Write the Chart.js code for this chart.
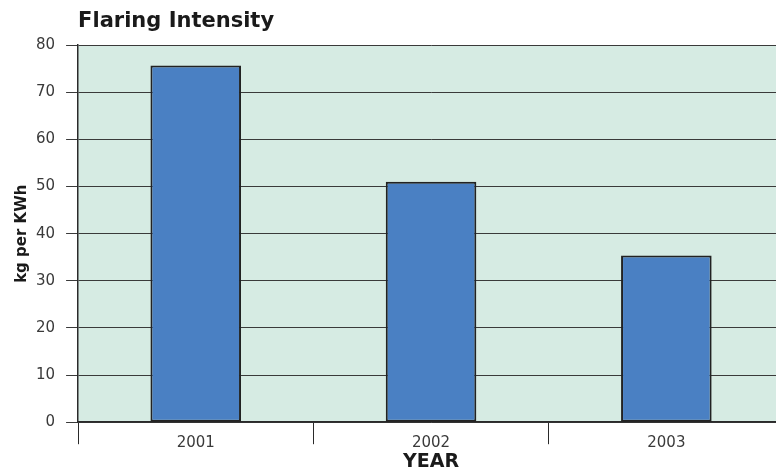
<!DOCTYPE html>
<html>
<head>
<meta charset="utf-8">
<style>
  html, body { margin: 0; padding: 0; background: #ffffff; overflow: hidden; }
  #wrap { position: relative; width: 784px; height: 474px; }
</style>
<script src="https://cdn.jsdelivr.net/npm/chart.js@4/dist/chart.umd.min.js"></script>
</head>
<body>
<div id="wrap"><canvas id="chart"></canvas></div>
<script>
// Flaring intensity by year
const years = ['2001', '2002', '2003'];
const intensity = [75.7, 51.0, 35.4];
const yTicks = [0, 10, 20, 30, 40, 50, 60, 70, 80];

const FONT = '"DejaVu Sans", "Liberation Sans", Arial, sans-serif';

// Fill the plotting area before the grid is drawn
const plotBackground = {
  id: 'plotBackground',
  beforeDraw(chart) {
    const { ctx, chartArea: a } = chart;
    ctx.save();
    ctx.fillStyle = '#d6ebe3';
    ctx.fillRect(a.left, a.top, a.right - a.left, a.bottom - a.top);
    ctx.restore();
  }
};

new Chart(document.getElementById('chart'), {
  type: 'bar',
  data: {
    labels: years,
    datasets: [{
      label: 'Flaring Intensity',
      data: intensity,
      backgroundColor: '#4a80c3',
      borderColor: '#222222',
      borderWidth: 2,
      borderSkipped: false,
      categoryPercentage: 1.0,
      barPercentage: 0.385
    }]
  },
  options: {
    responsive: true,
    maintainAspectRatio: false,
    animation: false,
    layout: { padding: { left: 13, right: 0, top: 0, bottom: 0 } },
    plugins: {
      legend: { display: false },
      tooltip: { enabled: false },
      title: {
        display: true,
        text: 'Flaring Intensity',
        align: 'start',
        fullSize: false,
        color: '#1a1a1a',
        font: { family: FONT, size: 21, weight: 'bold' },
        padding: { top: 9, bottom: 11 }
      }
    },
    scales: {
      x: {
        offset: true,
        grid: {
          offset: true,
          drawOnChartArea: false,
          drawTicks: true,
          tickLength: 22,
          color: '#2a2a2a',
          tickColor: '#2a2a2a',
          lineWidth: 1
        },
        border: { display: true, color: '#2a2a2a', width: 1.5 },
        ticks: {
          color: '#3a3a3a',
          padding: -10,
          font: { family: FONT, size: 15 }
        },
        title: {
          display: true,
          text: 'YEAR',
          color: '#1a1a1a',
          font: { family: FONT, size: 19, weight: 'bold' },
          padding: { top: 8, bottom: 1 }
        }
      },
      y: {
        min: 0,
        max: 80,
        afterBuildTicks(scale) {
          scale.ticks = yTicks.map(v => ({ value: v }));
        },
        grid: {
          drawTicks: true,
          tickLength: 12,
          color: '#3a3a3a',
          tickColor: '#3a3a3a',
          tickWidth: 1,
          lineWidth: 1
        },
        border: { display: true, color: '#2a2a2a', width: 1.5 },
        ticks: {
          color: '#3a3a3a',
          padding: 11,
          font: { family: FONT, size: 15 }
        },
        title: {
          display: true,
          text: 'kg per KWh',
          color: '#1a1a1a',
          font: { family: FONT, size: 15, weight: 'bold' },
          padding: { top: 0, bottom: -6 }
        }
      }
    }
  },
  plugins: [plotBackground]
});
</script>
</body>
</html>
